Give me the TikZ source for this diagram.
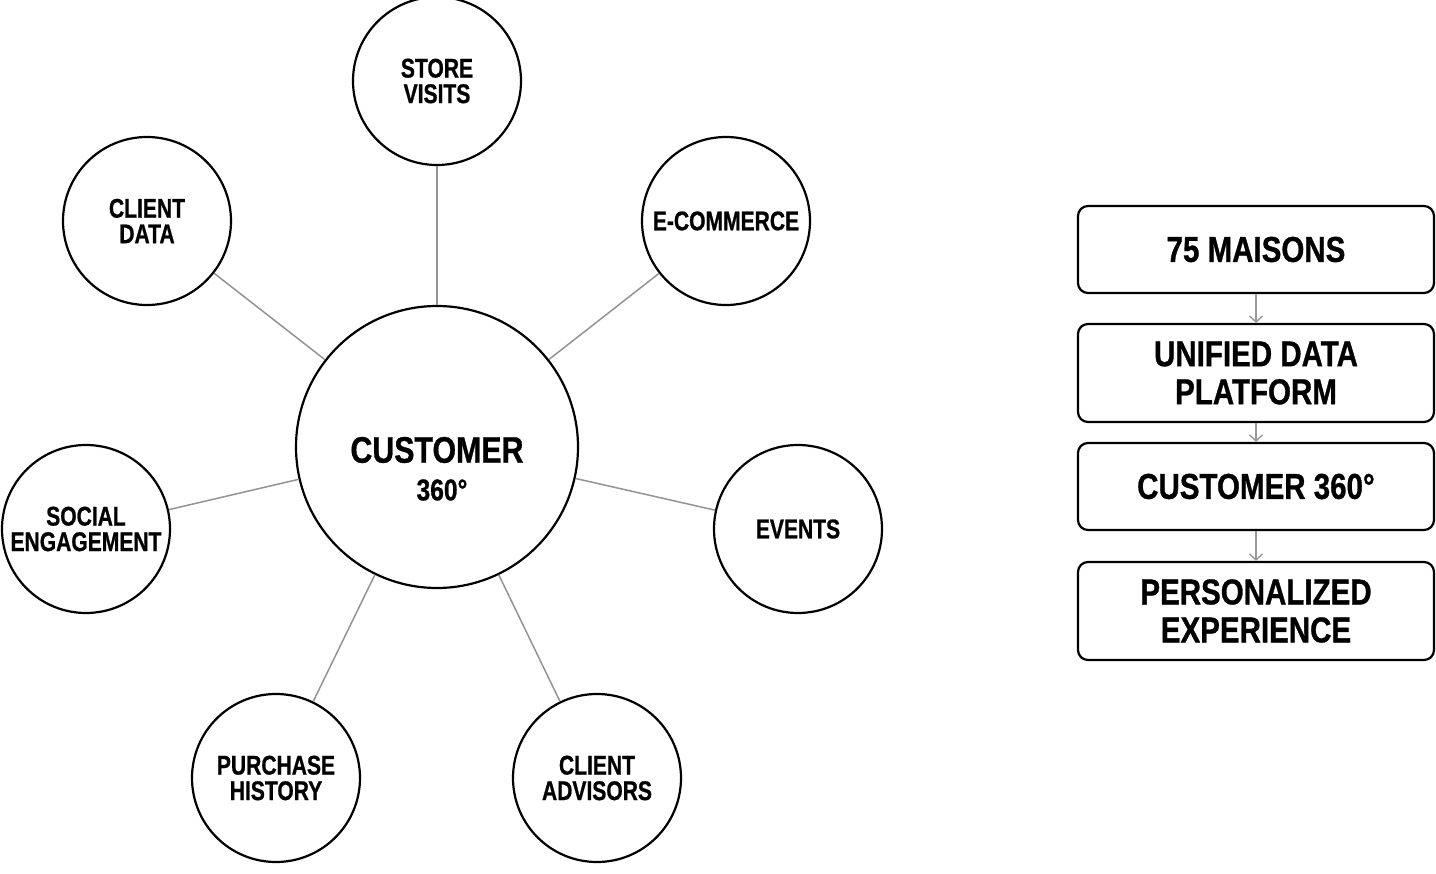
\documentclass[tikz,border=0pt]{standalone}
\usepackage{fontspec}
\setmainfont{Liberation Sans}[FakeStretch=0.82, BoldFeatures={FakeBold=0.8}]
\newfontfamily\spokefont{Liberation Sans}[FakeStretch=0.78, BoldFeatures={FakeBold=0.8}]
\usetikzlibrary{arrows.meta}
\tikzset{
  hub/.style={circle, draw=black, line width=2.2pt, minimum size=282pt, inner sep=0pt},
  spoke/.style={circle, draw=black, line width=2.2pt, minimum size=168pt, inner sep=0pt, align=center,
     font=\spokefont\fontsize{27}{25.5}\selectfont\bfseries},
  link/.style={draw=gray!85, line width=1.5pt},
  stagebox/.style={draw=black, line width=2.2pt, rounded corners=10pt, minimum width=356pt, align=center,
     font=\fontsize{36}{38}\selectfont\bfseries},
  flow/.style={draw=gray!80, line width=1.4pt, -{Straight Barb[length=6pt,width=13pt,line width=1.4pt]}}
}
\begin{document}
\begin{tikzpicture}[x=1pt,y=-1pt]
\useasboundingbox (0,0) rectangle (1436,874);
\node[hub] (c) at (437,447) {};
\node[font=\fontsize{37}{37}\selectfont\bfseries] (ct) at (437,450) {CUSTOMER};
\node[font=\fontsize{30}{30}\selectfont\bfseries] (cd) at (442,490) {360°};
\node[spoke] (sv) at (437,81) {STORE\\VISITS};
\node[spoke] (cdt) at (147,221) {CLIENT\\DATA};
\node[spoke] (ec) at (726,221) {E-COMMERCE};
\node[spoke] (se) at (86,529) {SOCIAL\\ENGAGEMENT};
\node[spoke] (ev) at (798,529) {EVENTS};
\node[spoke] (ph) at (276,778) {PURCHASE\\HISTORY};
\node[spoke] (ca) at (597,778) {CLIENT\\ADVISORS};
\foreach \n in {sv,cdt,ec,se,ev,ph,ca} {\draw[link] (\n) -- (c);}
\node[stagebox, minimum height=87pt] (b1) at (1256,249.5) {75 MAISONS};
\node[stagebox, minimum height=98pt] (b2) at (1256,373) {UNIFIED DATA\\PLATFORM};
\node[stagebox, minimum height=87pt] (b3) at (1256,486.5) {CUSTOMER 360°};
\node[stagebox, minimum height=98pt] (b4) at (1256,611) {PERSONALIZED\\EXPERIENCE};
\draw[flow] (b1) -- (b2);
\draw[flow] (b2) -- (b3);
\draw[flow] (b3) -- (b4);
\end{tikzpicture}
\end{document}
